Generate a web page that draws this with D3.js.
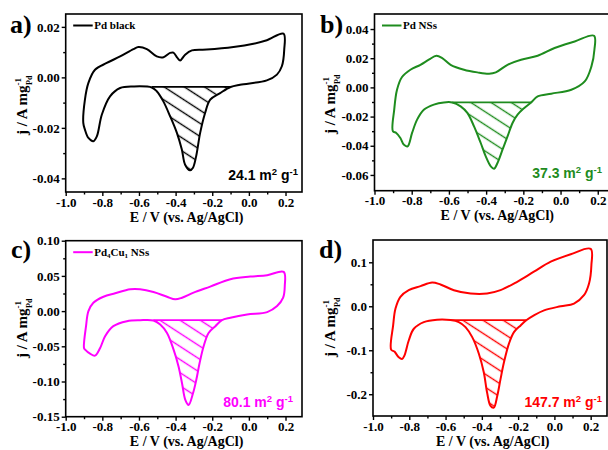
<!DOCTYPE html>
<html><head><meta charset="utf-8">
<script src="https://cdn.jsdelivr.net/npm/d3@7"></script>
<style>body{margin:0;background:#fff}</style>
</head><body>
<svg id="c" width="608" height="450" xmlns="http://www.w3.org/2000/svg"></svg>
<script>
// ---------- data ----------
const xMajor = [-1.0, -0.8, -0.6, -0.4, -0.2, 0.0, 0.2];
const xMinor = [-0.9, -0.7, -0.5, -0.3, -0.1, 0.1];

// Panel a: Pd black
const aFwdE = [-0.904,-0.895,-0.876,-0.84,-0.776,-0.703,-0.63,-0.603,-0.557,-0.503,-0.466,-0.43,-0.412,-0.39,-0.375,-0.348,-0.311,-0.23,-0.084,0.025,0.098,0.189];
const aFwdJ = [-0.018,-0.0088,-0.0022,0.003,0.0057,0.0083,0.0112,0.012,0.0112,0.0083,0.008,0.0097,0.0098,0.0077,0.0067,0.009,0.0107,0.011,0.012,0.0133,0.0147,0.0173];
const aRevE = [0.193,0.18,0.153,0.098,-0.048,-0.1,-0.157,-0.211,-0.239,-0.266,-0.288,-0.306,-0.321,-0.348,-0.366,-0.393,-0.43,-0.467,-0.503,-0.53,-0.63,-0.703,-0.758,-0.803,-0.83,-0.849,-0.876,-0.895];
const aRevJ = [0.011,0.0044,0.0011,-0.0012,-0.0029,-0.0038,-0.0062,-0.0088,-0.0141,-0.022,-0.0313,-0.0359,-0.0368,-0.0346,-0.0286,-0.022,-0.0154,-0.0095,-0.0055,-0.004,-0.0036,-0.0042,-0.0075,-0.0148,-0.0234,-0.0253,-0.024,-0.0207];
const aBase = -0.0038, aHatch = [-0.53, -0.1];
const aYMajor = [-0.04,-0.02,0.00,0.02], aYMinor = [-0.03,-0.01,0.01];
const aYLabels = ["-0.04","-0.02","0.00","0.02"];

// Panel b: Pd NSs
const bFwdE = [-0.901,-0.894,-0.879,-0.852,-0.807,-0.753,-0.708,-0.667,-0.636,-0.591,-0.519,-0.447,-0.384,-0.348,-0.285,-0.212,-0.123,-0.032,0.076,0.18];
const bFwdJ = [-0.0301,-0.0153,-0.0016,0.0071,0.0121,0.0155,0.019,0.0217,0.0201,0.0155,0.0121,0.0103,0.0094,0.0103,0.0155,0.019,0.0217,0.027,0.0315,0.0354];
const bRevE = [0.182,0.166,0.13,0.058,-0.05,-0.123,-0.158,-0.195,-0.231,-0.258,-0.285,-0.312,-0.339,-0.357,-0.375,-0.402,-0.429,-0.465,-0.501,-0.537,-0.582,-0.627,-0.681,-0.735,-0.771,-0.798,-0.822,-0.843,-0.861,-0.883];
const bRevJ = [0.0258,0.0144,0.0041,-0.0016,-0.0043,-0.0062,-0.0103,-0.0141,-0.0187,-0.0244,-0.0336,-0.0427,-0.0518,-0.0557,-0.0541,-0.0473,-0.0381,-0.0267,-0.0175,-0.013,-0.0103,-0.0103,-0.0118,-0.0153,-0.0221,-0.0312,-0.0404,-0.0392,-0.0347,-0.0312];
const bBase = -0.0103, bHatch = [-0.582, -0.158];
const bYMajor = [-0.06,-0.04,-0.02,0.00,0.02,0.04], bYMinor = [-0.05,-0.03,-0.01,0.01,0.03];
const bYLabels = ["-0.06","-0.04","-0.02","0.00","0.02","0.04"];

// Panel c: Pd4Cu1 NSs
const cFwdE = [-0.9,-0.889,-0.876,-0.849,-0.794,-0.73,-0.648,-0.594,-0.521,-0.447,-0.402,-0.365,-0.302,-0.211,-0.101,0.008,0.1,0.19];
const cFwdJ = [-0.0524,-0.0214,0,0.0119,0.0204,0.0253,0.031,0.031,0.0271,0.0204,0.0167,0.019,0.0262,0.0348,0.0453,0.049,0.051,0.0557];
const cRevE = [0.196,0.187,0.154,0.1,-0.01,-0.101,-0.147,-0.183,-0.22,-0.247,-0.269,-0.287,-0.305,-0.329,-0.347,-0.365,-0.384,-0.411,-0.447,-0.484,-0.521,-0.594,-0.666,-0.74,-0.785,-0.812,-0.84,-0.867,-0.894];
const cRevJ = [0.0357,0.019,0.0071,-0.0014,-0.0048,-0.0095,-0.0129,-0.0214,-0.031,-0.05,-0.0738,-0.0976,-0.1167,-0.1333,-0.126,-0.1024,-0.0786,-0.0548,-0.031,-0.019,-0.0133,-0.0129,-0.0143,-0.0214,-0.0357,-0.0524,-0.0633,-0.0605,-0.0548];
const cBase = -0.0129, cHatch = [-0.521, -0.147];
const cYMajor = [-0.15,-0.10,-0.05,0.00,0.05,0.10], cYMinor = [-0.125,-0.075,-0.025,0.025,0.075];
const cYLabels = ["-0.15","-0.10","-0.05","0.00","0.05","0.10"];

// Panel d (no legend)
const dFwdE = [-0.9,-0.889,-0.876,-0.849,-0.803,-0.738,-0.674,-0.628,-0.554,-0.462,-0.371,-0.297,-0.205,-0.113,-0.02,0.09,0.2];
const dFwdJ = [-0.0985,-0.0435,-0.0053,0.0214,0.0366,0.0458,0.0542,0.0496,0.0366,0.029,0.029,0.0366,0.0557,0.0786,0.1015,0.1183,0.1305];
const dRevE = [0.204,0.191,0.163,0.108,0.035,-0.057,-0.113,-0.153,-0.186,-0.223,-0.251,-0.278,-0.297,-0.315,-0.334,-0.352,-0.371,-0.389,-0.416,-0.453,-0.49,-0.527,-0.573,-0.647,-0.72,-0.775,-0.803,-0.827,-0.84,-0.858,-0.882];
const dRevJ = [0.0939,0.0519,0.0252,0.0061,0,-0.0092,-0.0206,-0.0313,-0.0435,-0.0588,-0.0855,-0.1275,-0.1656,-0.2038,-0.2305,-0.2267,-0.1962,-0.1504,-0.1084,-0.0702,-0.0473,-0.0359,-0.0313,-0.0305,-0.0359,-0.0511,-0.0779,-0.1122,-0.1198,-0.116,-0.1031];
const dBase = -0.0313, dHatch = [-0.573, -0.153];
const dYMajor = [-0.2,-0.1,0.0,0.1], dYMinor = [-0.15,-0.05,0.05];
const dYLabels = ["-0.2","-0.1","0.0","0.1"];

const areaLabels = ["24.1", "37.3", "80.1", "147.7"];
const seriesNames = ["Pd black", "Pd NSs", "Pd4Cu1 NSs", null];
const panelLetters = ["a)", "b)", "c)", "d)"];
const colors = ["#000000", "#1e8c1e", "#ff00ff", "#ff0000"];

// ---------- layout ----------
const serif = "'Liberation Serif','Times New Roman',serif";
const sans = "'Liberation Sans',Arial,sans-serif";
const panels = [
  {fwdE:aFwdE,fwdJ:aFwdJ,revE:aRevE,revJ:aRevJ,base:aBase,hatch:aHatch,yMajor:aYMajor,yMinor:aYMinor,yLabels:aYLabels,
   l:65.7,t:14,w:236.3,h:178,yDom:[-0.0454,0.0251], letter:[10,33], ylab:[27,135], area:[298,180]},
  {fwdE:bFwdE,fwdJ:bFwdJ,revE:bRevE,revJ:bRevJ,base:bBase,hatch:bHatch,yMajor:bYMajor,yMinor:bYMinor,yLabels:bYLabels,
   l:374.5,t:14,w:240,h:176.7,yDom:[-0.0708,0.0503], letter:[320,33], ylab:[335,134], area:[602,178]},
  {fwdE:cFwdE,fwdJ:cFwdJ,revE:cRevE,revJ:cRevJ,base:cBase,hatch:cHatch,yMajor:cYMajor,yMinor:cYMinor,yLabels:cYLabels,
   l:65.7,t:240.7,w:236.3,h:176,yDom:[-0.15,0.10], letter:[11,258], ylab:[27,358], area:[293,407]},
  {fwdE:dFwdE,fwdJ:dFwdJ,revE:dRevE,revJ:dRevJ,base:dBase,hatch:dHatch,yMajor:dYMajor,yMinor:dYMinor,yLabels:dYLabels,
   l:373,t:240,w:234,h:176,yDom:[-0.2495,0.1507], letter:[319,258], ylab:[335,357], area:[602,407]}
];

const svg = d3.select("#c");
const defs = svg.append("defs");

panels.forEach((p, i) => {
  const col = colors[i];
  const x = d3.scaleLinear().domain([-1.0, 0.29]).range([p.l, p.l + p.w]);
  const y = d3.scaleLinear().domain(p.yDom).range([p.t + p.h, p.t]);
  const g = svg.append("g");

  // hatch pattern
  const pat = defs.append("pattern").attr("id", "hatch" + i)
    .attr("patternUnits", "userSpaceOnUse").attr("width", 11).attr("height", 11)
    .attr("patternTransform", "rotate(33)");
  pat.append("line").attr("x1", -1).attr("x2", 12).attr("y1", 5.5).attr("y2", 5.5)
    .attr("stroke", col).attr("stroke-width", 1.4);

  // hatched region
  const seg = [[p.hatch[1], p.base]]
    .concat(p.revE.map((e, k) => [e, p.revJ[k]]).filter(d => d[0] < p.hatch[1] && d[0] > p.hatch[0]))
    .concat([[p.hatch[0], p.base]]);
  const segLine = d3.line().x(d => x(d[0])).y(d => y(d[1])).curve(d3.curveCatmullRom.alpha(0.5));
  g.append("path").attr("d", segLine(seg) + "Z").attr("fill", `url(#hatch${i})`).attr("stroke", "none");

  // baseline
  g.append("line").attr("x1", x(p.hatch[0])).attr("x2", x(p.hatch[1]))
    .attr("y1", y(p.base)).attr("y2", y(p.base)).attr("stroke", col).attr("stroke-width", 1.8);

  // CV loop
  const loop = p.fwdE.map((e, k) => [e, p.fwdJ[k]]).concat(p.revE.map((e, k) => [e, p.revJ[k]]));
  const loopLine = d3.line().x(d => x(d[0])).y(d => y(d[1])).curve(d3.curveCatmullRomClosed.alpha(0.5));
  g.append("path").attr("d", loopLine(loop)).attr("fill", "none").attr("stroke", col)
    .attr("stroke-width", 2).attr("stroke-linejoin", "round");

  // frame
  g.append("rect").attr("x", p.l).attr("y", p.t).attr("width", p.w).attr("height", p.h)
    .attr("fill", "none").attr("stroke", "#000").attr("stroke-width", 1.6);

  // axes
  g.append("g").attr("transform", `translate(0,${p.t + p.h})`)
    .call(d3.axisBottom(x).tickValues(xMajor).tickSize(4).tickSizeOuter(0).tickPadding(1.5)
      .tickFormat(d => d3.format(".1f")(d).replace("−", "-")));
  g.append("g").attr("transform", `translate(0,${p.t + p.h})`)
    .call(d3.axisBottom(x).tickValues(xMinor).tickSize(2.5).tickSizeOuter(0).tickFormat(""));
  g.append("g").attr("transform", `translate(${p.l},0)`)
    .call(d3.axisLeft(y).tickValues(p.yMajor).tickSize(4).tickSizeOuter(0).tickPadding(2)
      .tickFormat((d, k) => p.yLabels[k]));
  g.append("g").attr("transform", `translate(${p.l},0)`)
    .call(d3.axisLeft(y).tickValues(p.yMinor).tickSize(2.5).tickSizeOuter(0).tickFormat(""));
  g.selectAll(".domain").remove();
  g.selectAll(".tick line").attr("stroke", "#000").attr("stroke-width", 1.4);
  g.selectAll(".tick text").attr("font-family", serif).attr("font-weight", "bold")
    .attr("font-size", 13).attr("fill", "#000");

  // x label
  g.append("text").attr("x", x(-0.34)).attr("y", p.t + p.h + 29.5).attr("text-anchor", "middle")
    .attr("font-family", serif).attr("font-weight", "bold").attr("font-size", 14)
    .text("E / V (vs. Ag/AgCl)");

  // y label
  const yl = g.append("text").attr("transform", `translate(${p.ylab[0]},${p.ylab[1]}) rotate(-90)`)
    .attr("font-family", serif).attr("font-weight", "bold").attr("font-size", 15);
  yl.append("tspan").text("j / A mg");
  yl.append("tspan").attr("font-size", 9).attr("dy", -6).text("-1");
  yl.append("tspan").attr("font-size", 8).attr("dx", -7).attr("dy", 11).text("Pd");

  // panel letter
  g.append("text").attr("x", p.letter[0]).attr("y", p.letter[1])
    .attr("font-family", serif).attr("font-weight", "bold").attr("font-size", 26)
    .text(panelLetters[i]);

  // legend
  if (seriesNames[i]) {
    const ly = p.t + 11.5;
    g.append("line").attr("x1", p.l + 7.5).attr("x2", p.l + 27).attr("y1", ly).attr("y2", ly)
      .attr("stroke", col).attr("stroke-width", 2);
    const lt = g.append("text").attr("x", p.l + 28.5).attr("y", ly + 3.7)
      .attr("font-family", serif).attr("font-weight", "bold").attr("font-size", 11);
    if (i === 2) {
      lt.append("tspan").text("Pd");
      lt.append("tspan").attr("font-size", 7).attr("dy", 2.5).text("4");
      lt.append("tspan").attr("dy", -2.5).text("Cu");
      lt.append("tspan").attr("font-size", 7).attr("dy", 2.5).text("1");
      lt.append("tspan").attr("dy", -2.5).text(" NSs");
    } else {
      lt.text(seriesNames[i]);
    }
  }

  // surface area annotation
  const at = g.append("text").attr("x", p.area[0]).attr("y", p.area[1]).attr("text-anchor", "end")
    .attr("font-family", sans).attr("font-weight", "bold").attr("font-size", 14).attr("fill", col);
  at.append("tspan").text(areaLabels[i] + " m");
  at.append("tspan").attr("font-size", 9.5).attr("dy", -5).text("2");
  at.append("tspan").attr("dy", 5).text(" g");
  at.append("tspan").attr("font-size", 9.5).attr("dy", -5).text("-1");
});
</script>
</body></html>
